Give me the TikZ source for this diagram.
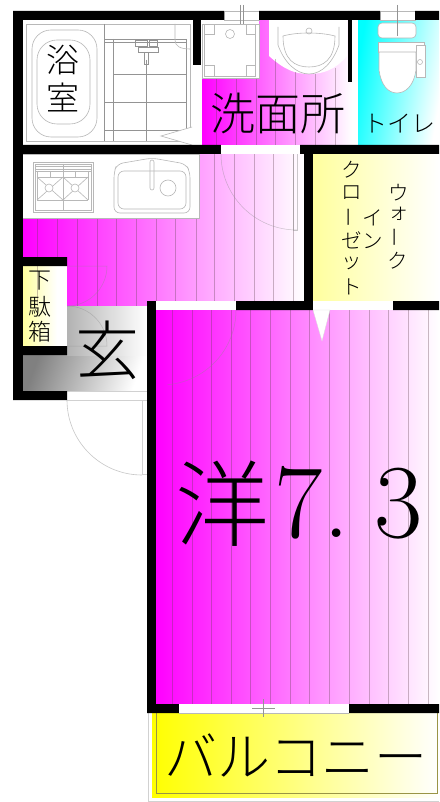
\documentclass[tikz,border=0pt]{standalone}
\usepackage{fontspec}
\newfontfamily\cjk{Noto Sans CJK JP Light}
\tikzset{
 wall/.style={fill=black,draw=none},
 fix/.style={draw=black!28,line width=0.6pt,fill=none},
 fine/.style={draw=black!42,line width=0.5pt},
 plank/.style={draw=black!70!magenta,draw opacity=.35,line width=0.6pt},
 swing/.style={draw=black!45,draw opacity=.45,line width=0.5pt},
 lab/.style={inner sep=0pt,font=\cjk,text=black},
 num/.style={inner sep=0pt,anchor=base,text=black},
}
\newcommand{\fs}[1]{\fontsize{#1}{#1}\selectfont}
\begin{document}
\begin{tikzpicture}[x=1pt,y=-1pt]
\useasboundingbox (0,0) rectangle (439,802);
\fill[white] (0,0) rectangle (439,802);
% floors
\shade[left color=magenta,right color=white] (23,154) rectangle (304,306);
\fill[white] (23,154) rectangle (199,218);
\shade[left color=magenta,right color=white] (202,20) rectangle (352,145);
\fill[white] (202,20) rectangle (259,78);
\fill[white] (269,20) rectangle (347,56);
\fill[white] (269,56) .. controls (285,70) and (295,74) .. (309,74) .. controls (323,74) and (335,70) .. (347,56) -- cycle;
\shade[left color=cyan,right color=white,shading angle=80] (358,20) rectangle (439,145);
\fill[white] (352,82) rectangle (358,145);
\shade[left color=yellow!38,right color=white] (313,154) rectangle (439,301);
\shade[left color=yellow!38,right color=white] (23,266) rectangle (57,346);
\shade[left color=black!50,right color=white,shading angle=70] (23,355) rectangle (147,391);
\shade[left color=black!30,right color=white] (67,306) rectangle (147,355);
\shade[left color=magenta,right color=white] (156,310) rectangle (439,704);
\shade[left color=yellow,right color=white] (152,713) rectangle (439,797);
% planks
\foreach \x in {37,57,77,97,116,136,156,175,196,214,234,254,273,293}
  \draw[plank] (\x,{\x<199?218:154}) -- (\x,306);
\foreach \x in {172,192,211,231,250,270,290,309,329,349,369,388,408,428}
  \draw[plank] (\x,310) -- (\x,704);
\foreach \x in {216,236,256} \draw[plank] (\x,78) -- (\x,145);
\draw[plank] (275,59) -- (275,145);
\draw[plank] (295,72) -- (295,145);
\draw[plank] (315,74) -- (315,145);
\draw[plank] (335,68) -- (335,145);
% bath
\draw[fix] (26,24) rectangle (190,141);
\draw[fix,rounded corners=19] (32,30) rectangle (97,137);
\draw[fix,rounded corners=20] (37,40) rectangle (90,124);
\draw[fine] (104,24) -- (104,141) (113,39) -- (113,141) (146,60) -- (146,141) (186,39) -- (186,141);
\draw[fine] (104,39) -- (186,39) (104,42) -- (186,42) (113,74) -- (186,74) (104,102) -- (186,102) (104,130) -- (186,130);
\draw[fix] (175,24) -- (175,40) .. controls (175,46) and (180,49) .. (190,49);
\draw[fine] (135,40) rectangle (147,46) (149,40) rectangle (157,46) (138,47) rectangle (158,52) (144,52) rectangle (148,64);
\fill[white] (192,127) -- (161,136) -- (192,145) -- cycle;
\draw[fix] (192,127) -- (161,136) -- (192,145);
% fixtures upper
\draw[fix] (202,24) rectangle (259,78) (204,24) rectangle (255,76);
\draw[fix] (204,24) rectangle (214,34) (246,24) rectangle (255,34) (204,65) rectangle (214,76) (246,65) rectangle (255,76);
\draw[fix] (230,34) circle (4.5);
\draw[fix] (278,27) -- (278,45) .. controls (284,62) and (296,74) .. (309,74) .. controls (322,74) and (333,62) .. (339,45) -- (339,27);
\draw[fix] (283,36) .. controls (283,60) and (295,67) .. (309,67) .. controls (323,67) and (335,60) .. (335,36) .. controls (320,32) and (297,32) .. (283,36) -- cycle;
\draw[fix] (309,31) circle (3);
\draw[fix,rounded corners=4,fill=white] (378,23) rectangle (416,38);
\draw[fix,fill=white] (378,42) rectangle (424,52);
\draw[fix,fill=white] (416,45) rectangle (425,77);
\draw[fix,fill=white] (379,52) -- (379,70) .. controls (381,85) and (388,93) .. (397,93) .. controls (406,93) and (414,85) .. (416,70) -- (416,52) -- cycle;
\draw[fix] (420,62) circle (2.5);
\fill[white] (224,11) rectangle (259,20) (380,11) rectangle (415,20);
\draw[fix] (224,11) rectangle (259,20) (380,11) rectangle (415,20);
\draw[fine] (240,5) -- (240,24) (243,5) -- (243,24);
\draw[fine] (397,5) -- (397,36);
% kitchen
\draw[fix] (23,154) -- (199,154) -- (199,218) -- (23,218);
\draw[fix] (33,162) rectangle (93,212) (35,164) rectangle (91,210);
\draw[fix] (35,166) -- (91,166) (35,169) -- (91,169) (35,171) -- (91,171) (37,200) -- (88,200);
\draw[fix] (37,171) -- (37,200) (50,171) -- (50,177) (50,200) -- (50,200) (63,164) -- (63,210) (75,171) -- (75,177) (88,171) -- (88,200) (37,177) -- (88,177);
\draw[fix] (37,177) -- (63,200) (63,177) -- (37,200) (63,177) -- (88,200) (88,177) -- (63,200);
\draw[fix,fill=white] (49,188) circle (4) (75,188) circle (4);
\draw[fix,rounded corners=6] (114,172) -- (117,164) -- (152,158) -- (186,164) -- (190,172) -- (190,213) -- (114,213) -- cycle;
\draw[fix,rounded corners=6] (118,171) rectangle (186,209);
\draw[fix,rounded corners=2] (150,160) rectangle (154,190);
\draw[fix] (168,188) circle (8);
% door leaves and swings
\draw[swing] (221,154) arc[start angle=180,end angle=90,radius=76];
\draw[swing] (293,154) -- (293,230) -- (297,230) -- (297,154);
\draw[swing] (67,266) -- (107,266) arc[start angle=0,end angle=90,radius=40];
\draw[swing] (67,346) -- (107,346) arc[start angle=0,end angle=-90,radius=40];
\draw[swing] (236,310) arc[start angle=0,end angle=85,radius=75];
\fill[white] (57,266) rectangle (67,346);
\draw[fix,draw=black!18] (142,400) -- (142,474) -- (147,474);
\draw[fix,draw=black!22] (67,400) arc[start angle=180,end angle=90,radius=75];
\draw[fix,draw=black!18] (67,400) -- (147,400) (67,391) -- (147,391);
% balcony
\draw[draw=black!18,line width=1pt] (148,713) -- (148,801) -- (439,801);
\draw[draw=black!45!yellow,line width=0.4pt] (156,713) -- (156,793) -- (437,793) -- (437,713);
% walls
\fill[wall] (13,11) rectangle (224,20) (259,11) rectangle (380,20) (415,11) rectangle (439,20);
\fill[wall] (13,11) rectangle (23,400);
\fill[wall] (193,20) rectangle (201,65);
\fill[wall] (348,20) rectangle (352,82);
\fill[wall] (13,145) rectangle (221,154) (300,145) rectangle (439,154);
\fill[wall] (304,145) rectangle (313,306);
\fill[wall] (23,257) rectangle (67,266) (23,346) rectangle (67,355) (13,391) rectangle (67,400);
\fill[wall] (236,301) rectangle (313,310) (393,301) rectangle (439,310);
\fill[wall] (147,301) rectangle (156,713);
\fill[wall] (147,704) rectangle (179,713) (349,704) rectangle (439,713);
% openings
\fill[white] (221,145) rectangle (300,154);
\fill[white] (156,301) rectangle (236,310);
\fill[white] (313,301) rectangle (393,310);
\fill[white] (179,704) rectangle (349,713);
\draw[fix] (179,713) -- (349,713);
\draw[fine] (252,708) -- (275,708) (263,699) -- (263,717);
\fill[white,draw=black!15,line width=.3pt] (313,310) -- (330,310) -- (322,341) -- cycle;
% labels
\node[lab] (yoku) at (63,60) {\fs{33}浴};
\node[lab] (shitsu) at (63,97) {\fs{33}室};
\node[lab] (wash) at (278,113) {\fs{45}洗面所};
\node[lab] (toilet) at (399,124) {\fs{24}トイレ};
\node[lab] (ge) at (40,281) {\fs{23}下};
\node[lab] (da) at (40,307) {\fs{23}駄};
\node[lab] (bako) at (40,332) {\fs{23}箱};
\node[lab] (gen) at (107,350) {\fs{64}玄};
\node[lab] (you) at (222,504) {\fs{94}洋};
\node[num] (seven) at (299,537) {\fs{105}7};
\node[num] (dot) at (337,537) {\fs{105}.};
\node[num] (three) at (399,537) {\fs{105}3};
\foreach \t/\x/\y/\n in {ウ/399/193/a,ォ/399/214/b,ク/398/261/d,イ/373/218/e,ン/373/241/f,ク/352/170/g,ロ/352/193/h,ゼ/352/240/j,ッ/352/263/k,ト/352/287/l}
  \node[lab] (w\n) at (\x,\y) {\fs{20.5}\t};
\node[lab,rotate=90] (wc) at (398,237) {\fs{20.5}ー};
\node[lab,rotate=90] (wi) at (352,217) {\fs{20.5}ー};
\node[lab] (balc) at (296,755) {\fs{53}バルコニー};
\end{tikzpicture}
\end{document}
